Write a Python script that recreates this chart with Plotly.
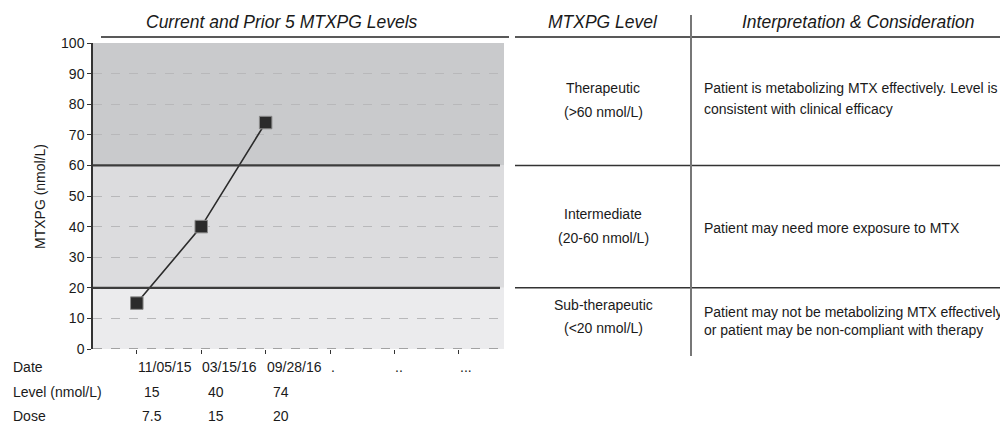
import plotly.graph_objects as go

# ---- data ----
x_idx = [0, 1, 2, 3, 4, 5]
date_labels = ["11/05/15", "03/15/16", "09/28/16", ".", "..", "..."]
meas_idx = [0, 1, 2]
levels = [15, 40, 74]
doses = ["7.5", "15", "20"]
row_labels = ["Date", "Level (nmol/L)", "Dose"]
band_bounds = [0, 20, 60, 100]
thresholds = [20, 60]
tbl_level = ["Therapeutic", "Intermediate", "Sub-therapeutic"]
tbl_range = ["(>60 nmol/L)", "(20-60 nmol/L)", "(<20 nmol/L)"]
tbl_interp = [
    ["Patient is metabolizing MTX effectively. Level is", "consistent with clinical efficacy"],
    ["Patient may need more exposure to MTX"],
    ["Patient may not be metabolizing MTX effectively", "or patient may be non-compliant with therapy"],
]

# ---- layout geometry ----
W, H = 1000, 424
L, R, T, B = 93, 496, 43, 75
PW, PH = W - L - R, H - T - B


def px(p):  # pixel x -> paper
    return (p - L) / PW


def py(p):  # pixel y -> paper
    return (H - B - p) / PH


FONT = "Liberation Sans, Arial, sans-serif"
TXT = "#1a1a1a"
FS = 14
FT = 17.5

fig = go.Figure()
fig.add_trace(go.Scatter(
    x=meas_idx, y=levels, mode="lines+markers",
    line=dict(color="#2b2b2b", width=1.6),
    marker=dict(symbol="square", size=12.5, color="#2b2b2b", line=dict(color="#8a8a8a", width=1)),
    showlegend=False, cliponaxis=False, hoverinfo="skip",
))

shapes = []
band_colors = ["#ebebed", "#dcdcde", "#c9cacc"]
for i in range(3):
    shapes.append(dict(type="rect", xref="paper", yref="y", x0=0, x1=1,
                       y0=band_bounds[i], y1=band_bounds[i + 1],
                       fillcolor=band_colors[i], line_width=0, layer="below"))
# zero line dashed
shapes.append(dict(type="line", xref="paper", yref="y", x0=0, x1=1, y0=0, y1=0,
                   line=dict(color="#8a8a8a", width=1.5, dash="dash"), layer="above"))
for t in thresholds:
    shapes.append(dict(type="line", xref="paper", yref="y", x0=0, x1=px(500), y0=t, y1=t,
                       line=dict(color="#3c3c3c", width=2.2)))
    shapes.append(dict(type="line", xref="paper", yref="y", x0=px(515), x1=px(1000), y0=t, y1=t,
                       line=dict(color="#333333", width=1.5)))
# title underlines
shapes.append(dict(type="line", xref="paper", yref="paper", x0=px(101), x1=px(509),
                   y0=py(37), y1=py(37), line=dict(color="#222222", width=1.5)))
shapes.append(dict(type="line", xref="paper", yref="paper", x0=px(515), x1=px(1000),
                   y0=py(37), y1=py(37), line=dict(color="#222222", width=1.5)))
# vertical table divider
shapes.append(dict(type="line", xref="paper", yref="paper", x0=px(691), x1=px(691),
                   y0=py(15), y1=py(356), line=dict(color="#777777", width=2)))

ann = []
base = dict(showarrow=False, xanchor="center", yanchor="middle",
            font=dict(family=FONT, size=FS, color=TXT))
tfont = dict(family=FONT, size=FT, color=TXT)
ann.append(dict(base, text="<i>Current and Prior 5 MTXPG Levels</i>", xref="paper", yref="paper",
                x=px(282), y=py(22), font=tfont))
ann.append(dict(base, text="<i>MTXPG Level</i>", xref="paper", yref="paper",
                x=px(603), y=py(22), font=tfont))
ann.append(dict(base, text="<i>Interpretation & Consideration</i>", xref="paper", yref="paper",
                x=px(858), y=py(22), font=tfont))
ann.append(dict(base, text="MTXPG (nmol/L)", xref="paper", yref="paper", textangle=-90,
                x=px(40), y=0.5))

# bottom data table
row_y = [367, 392, 416]
for lab, yy in zip(row_labels, row_y):
    ann.append(dict(base, text=lab, xref="paper", yref="paper", x=px(11), y=py(yy),
                    xanchor="left"))
for xi, d in zip(x_idx, date_labels):
    ann.append(dict(base, text=d, xref="x", yref="paper", x=xi, y=py(row_y[0]),
                    xanchor="left", xshift=-1))
for xi, lv, ds in zip(meas_idx, levels, doses):
    ann.append(dict(base, text=str(lv), xref="x", yref="paper", x=xi, y=py(row_y[1]), xshift=15))
    ann.append(dict(base, text=ds, xref="x", yref="paper", x=xi, y=py(row_y[2]), xshift=15))

# right-hand interpretation table
lvl_y = [(88, 112), (214, 238), (305, 328)]
interp_y = [(88, 109), (228,), (312, 330)]
for i in range(3):
    ann.append(dict(base, text=tbl_level[i], xref="paper", yref="paper", x=px(603), y=py(lvl_y[i][0])))
    ann.append(dict(base, text=tbl_range[i], xref="paper", yref="paper", x=px(603), y=py(lvl_y[i][1])))
    for line, yy in zip(tbl_interp[i], interp_y[i]):
        ann.append(dict(base, text=line, xref="paper", yref="paper", x=px(702), y=py(yy),
                        xanchor="left"))

fig.update_layout(
    width=W, height=H, autosize=False,
    margin=dict(l=L, r=R, t=T, b=B),
    paper_bgcolor="white", plot_bgcolor="white",
    font=dict(family=FONT, size=FS, color=TXT),
    shapes=shapes, annotations=ann, hovermode=False,
    xaxis=dict(range=[-0.68, 5.7], tickvals=x_idx, ticktext=[""] * len(x_idx),
               ticks="outside", ticklen=4, tickcolor="#333333", tickwidth=1.2,
               showgrid=False, zeroline=False, showline=False, fixedrange=True),
    yaxis=dict(range=[0, 100], dtick=10, ticks="outside", ticklen=4, tickcolor="#333333",
               tickwidth=1.2, showline=True, linecolor="#333333", linewidth=1.5,
               showgrid=True, gridcolor="#b8b8ba", griddash="dash", gridwidth=1,
               zeroline=False, tickfont=dict(family=FONT, size=FS, color=TXT), fixedrange=True),
)

fig.write_html("out.html", config={"displayModeBar": False},
               post_script="document.body.style.margin='0';document.body.style.overflow='hidden';")
